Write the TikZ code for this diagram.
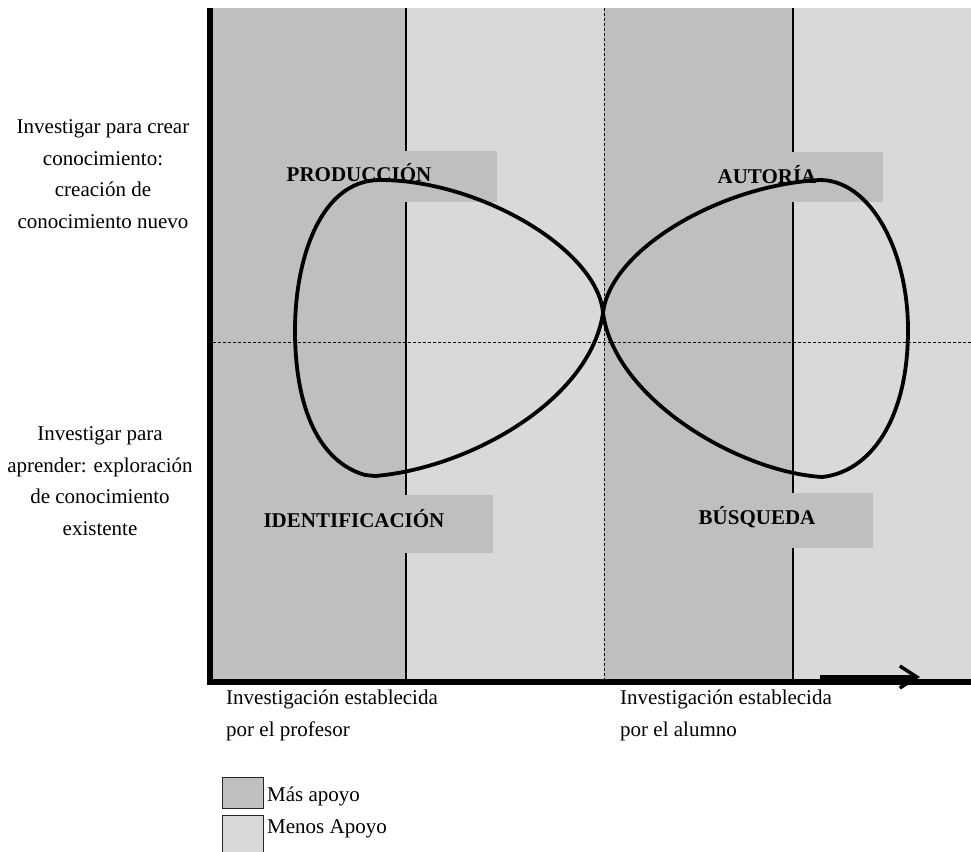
\documentclass[tikz,border=0pt]{standalone}
\usepackage{fontspec}
\setmainfont{Liberation Serif}
\usetikzlibrary{arrows.meta}
\definecolor{darkband}{HTML}{BFBFBF}
\definecolor{lightband}{HTML}{D9D9D9}
\begin{document}
\begin{tikzpicture}[x=1pt,y=-1pt,
  body/.style={font=\fontsize{21}{31.5}\selectfont, align=center, inner sep=0pt},
  plain/.style={font=\fontsize{21}{24}\selectfont, inner sep=0pt},
  tag/.style={font=\fontsize{21}{24}\selectfont\bfseries, inner sep=0pt},
  divider/.style={line width=2pt},
  guide/.style={line width=0.9pt, dash pattern=on 3pt off 2pt},
  loopline/.style={line width=3.8pt, line join=round, line cap=round},
  axis/.style={line width=6pt, line join=miter},
  swatch/.style={draw=black!85, line width=1pt}]
\useasboundingbox (0,0) rectangle (971,851);

% support bands
\fill[darkband]  (213,8) rectangle (406,682);
\fill[lightband] (406,8) rectangle (604,682);
\fill[darkband]  (604,8) rectangle (793,682);
\fill[lightband] (793,8) rectangle (971,682);

% dividers and guides
\draw[divider] (406,8) -- (406,682);
\draw[divider] (793,8) -- (793,682);
\draw[guide] (604,8) -- (604,682);
\draw[guide] (213,342) -- (971,342);

% quadrant tags
\fill[darkband] (290,151) rectangle (497,202);
\fill[darkband] (700,152) rectangle (883,202);
\fill[darkband] (260,495) rectangle (493,553);
\fill[darkband] (690,493) rectangle (873,548);
\node[tag] (prod) at (359,173) {PRODUCCIÓN};
\node[tag] (aut)  at (767,175) {AUTORÍA};
\node[tag] (iden) at (354,519) {IDENTIFICACIÓN};
\node[tag] (busq) at (757,517) {BÚSQUEDA};

% figure-eight loops
\coordinate (c) at (603,313);
\draw[loopline] (c) .. controls (598,250) and (480,180) .. (380,180)
  .. controls (320,180) and (295,260) .. (295,330)
  .. controls (295,410) and (320,462) .. (365,475)
  -- (375,476)
  .. controls (470,468) and (590,400) .. (c);
\draw[loopline] (c) .. controls (610,250) and (720,185) .. (820,180)
  .. controls (870,180) and (908,250) .. (908,330)
  .. controls (908,420) and (870,472) .. (822,477)
  .. controls (740,472) and (615,400) .. (c);

% axes
\draw[axis] (210,8) -- (210,682) -- (971,682);
\coordinate (arrowstart) at (820,677);
\coordinate (arrowend) at (920,677);
\draw[line width=3.5pt, -{Straight Barb[length=17pt,width=22pt,line width=3.5pt]}] (arrowstart) -- (arrowend);

% level labels
\node[body] (create) at (103,174) {Investigar para crear\\conocimiento:\\creación de\\conocimiento nuevo};
\node[body] (learn) at (100,481) {Investigar para\\aprender: exploración\\de conocimiento\\existente};

% origin labels
\node[plain, anchor=base west] (t1) at (226,704) {Investigación establecida};
\node[plain, anchor=base west] (t2) at (226,736) {por el profesor};
\node[plain, anchor=base west] (s1) at (620,704) {Investigación establecida};
\node[plain, anchor=base west] (s2) at (620,736) {por el alumno};

% legend
\filldraw[swatch, fill=darkband]  (222,777) rectangle (263,808);
\filldraw[swatch, fill=lightband] (222,815) rectangle (263,856);
\node[plain, anchor=base west] (more) at (267,801) {Más apoyo};
\node[plain, anchor=base west] (less) at (267,833) {Menos Apoyo};
\end{tikzpicture}
\end{document}
